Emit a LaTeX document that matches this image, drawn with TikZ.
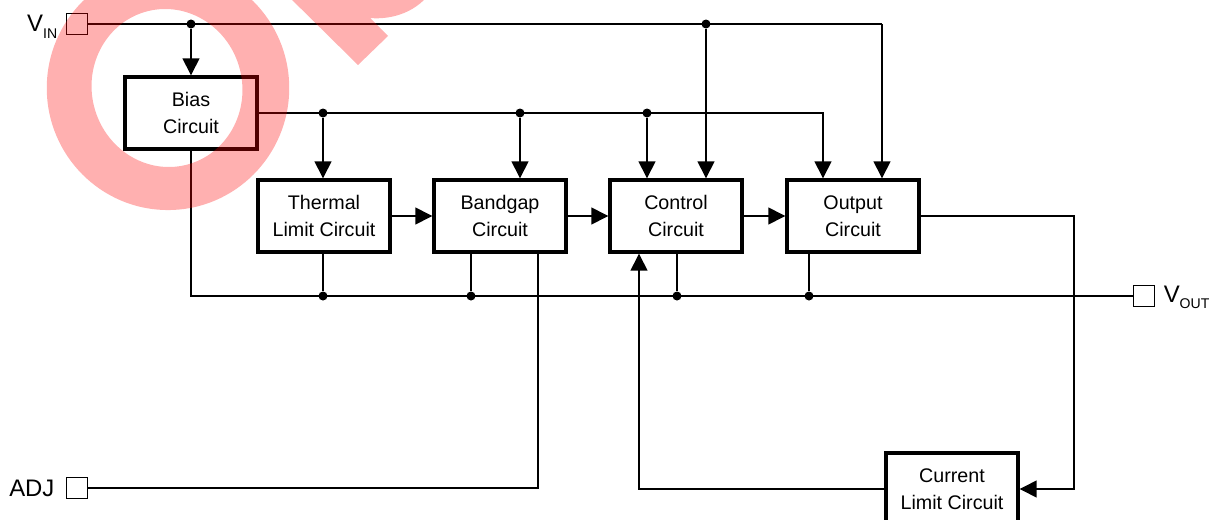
\documentclass[tikz,border=0pt]{standalone}
\usepackage{fontspec}
\setmainfont{Liberation Sans}
\usetikzlibrary{positioning}
\usetikzlibrary{arrows.meta}

\tikzset{
  block/.style={draw, line width=2.4pt, minimum width=3.3cm, minimum height=1.8cm,
    align=center, fill=white, font=\fontsize{14}{19}\selectfont},
  pin/.style={draw, line width=0.6pt, minimum size=0.53cm, inner sep=0pt},
  pinlabel/.style={inner sep=0pt, font=\fontsize{17}{17}\selectfont},
  wire/.style={line width=1pt},
  feed/.style={wire, -{Triangle[length=12pt,width=12pt]}},
  dot/.style={circle, fill, inner sep=0pt, minimum size=6.4pt},
  watermark/.style={fill=red, fill opacity=.31},
}
\newcommand{\pinname}[2]{#1\raisebox{-0.5ex}{\fontsize{10}{10}\selectfont #2}}

\begin{document}
\begin{tikzpicture}[x=0.025cm, y=-0.025cm]
  \useasboundingbox (0,0) rectangle (1219,520);

  % blocks
  \node[block] (bias) at (191,113) {Bias\\Circuit};
  \node[block] (thermal) at (324,216) {Thermal\\Limit Circuit};
  \node[block] (bandgap) at (500,216) {Bandgap\\Circuit};
  \node[block] (control) at (676,216) {Control\\Circuit};
  \node[block] (output) at (853,216) {Output\\Circuit};
  \node[block] (current) at (952,489) {Current\\Limit Circuit};

  % pins
  \node[pin] (vin) at (77,24) {};
  \node[pin] (adj) at (77,488) {};
  \node[pin] (vout) at (1144,296) {};
  \node[pinlabel, left=6pt of vin, yshift=-2pt] (vinlabel) {\pinname{V}{IN}};
  \node[pinlabel, left=8pt of adj] (adjlabel) {ADJ};
  \node[pinlabel, right=6pt of vout, yshift=-1pt] (voutlabel) {\pinname{V}{OUT}};

  % input rail
  \coordinate (vinend) at (882,24);
  \node[dot] (vj1) at (191,24) {};
  \node[dot] (vj2) at (706,24) {};
  \draw[wire] (vin.east) -- (vinend);
  \draw[feed] (vj1) -- (bias.north);
  \draw[feed] (vj2) -- (vj2 |- control.north);
  \draw[feed] (vinend) -- (vinend |- output.north);

  % bias rail
  \coordinate (biasend) at (823,113);
  \node[dot] (bj1) at (323,113) {};
  \node[dot] (bj2) at (520,113) {};
  \node[dot] (bj3) at (647,113) {};
  \draw[feed] (bias.east) -- (biasend) -- (biasend |- output.north);
  \draw[feed] (bj1) -- (bj1 |- thermal.north);
  \draw[feed] (bj2) -- (bj2 |- bandgap.north);
  \draw[feed] (bj3) -- (bj3 |- control.north);

  % chain
  \draw[feed] (thermal) -- (bandgap);
  \draw[feed] (bandgap) -- (control);
  \draw[feed] (control) -- (output);

  % output rail
  \coordinate (gndturn) at (191,296);
  \node[dot] (gj1) at (323,296) {};
  \node[dot] (gj2) at (471,296) {};
  \node[dot] (gj3) at (677,296) {};
  \node[dot] (gj4) at (809,296) {};
  \draw[wire] (bias.south) -- (gndturn) -- (vout.west);
  \draw[wire] (gj1 |- thermal.south) -- (gj1);
  \draw[wire] (gj2 |- bandgap.south) -- (gj2);
  \draw[wire] (gj3 |- control.south) -- (gj3);
  \draw[wire] (gj4 |- output.south) -- (gj4);

  % adj and current limit loop
  \coordinate (adjturn) at (538,488);
  \draw[wire] (adj.east) -- (adjturn) -- (adjturn |- bandgap.south);
  \coordinate (outturn) at (1074,216);
  \coordinate (outturn2) at (1074,489);
  \draw[feed] (output.east) -- (outturn) -- (outturn2) -- (current.east);
  \coordinate (limturn) at (639,489);
  \draw[feed] (current.west) -- (limturn) -- (limturn |- control.south);

  % watermark
  \begin{scope}
    \clip (0,0) rectangle (1219,520);
    \fill[watermark, even odd rule] (168,88) circle [x radius=3.03cm, y radius=3.05cm]
      (167,88) circle [x radius=1.88cm, y radius=1.98cm, rotate=14];
    \fill[watermark] (282,-10) -- (358,65) -- (388,36) -- (370,18)
      .. controls (392,20) and (418,12) .. (432,-10) -- cycle;
  \end{scope}
\end{tikzpicture}
\end{document}
